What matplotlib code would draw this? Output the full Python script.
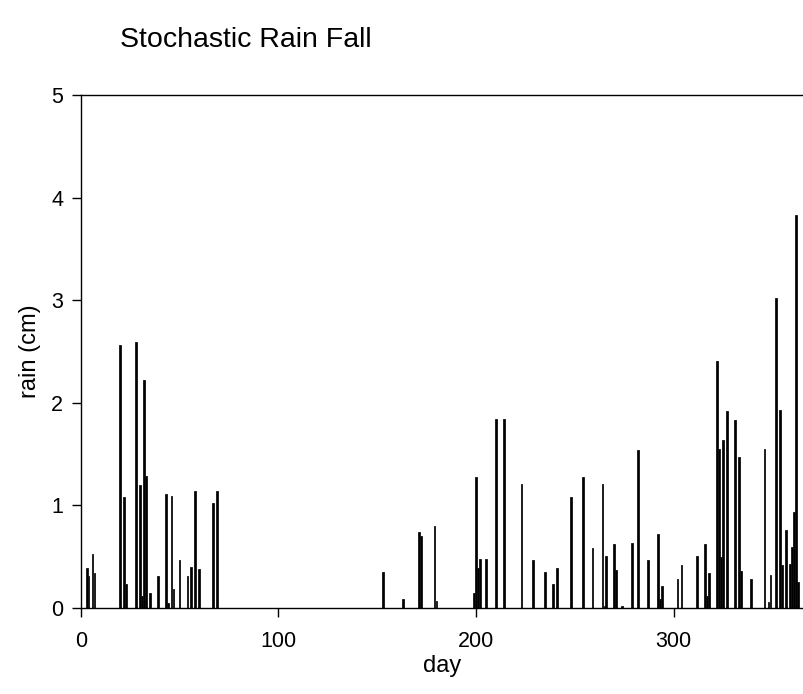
import matplotlib
matplotlib.use("Agg")
import matplotlib.pyplot as plt

plt.rcParams['font.family'] = ['Liberation Sans', 'DejaVu Sans']

days = [3, 4, 6, 7, 20, 22, 23, 28, 30, 31, 32, 33, 35, 39, 43, 44, 46, 47, 50, 54,
        56, 58, 60, 67, 69, 153, 163, 171, 172, 179, 180, 199, 200, 201, 202, 205,
        210, 214, 223, 229, 235, 239, 241, 248, 254, 259, 264, 265, 266, 270, 271,
        274, 279, 282, 287, 292, 293, 294, 302, 304, 312, 316, 317, 318, 322, 323,
        324, 325, 327, 331, 333, 334, 339, 346, 348, 349, 352, 354, 355, 357, 359,
        360, 361, 362, 363]
rain = [0.39, 0.31, 0.53, 0.34, 2.56, 1.08, 0.23, 2.59, 1.20, 0.12, 2.22, 1.29, 0.15,
        0.31, 1.11, 0.05, 1.09, 0.19, 0.47, 0.31, 0.40, 1.14, 0.38, 1.02, 1.14, 0.35,
        0.09, 0.74, 0.70, 0.80, 0.07, 0.15, 1.28, 0.39, 0.48, 0.48, 1.84, 1.84, 1.21,
        0.47, 0.35, 0.23, 0.39, 1.08, 1.28, 0.58, 1.21, 0.02, 0.51, 0.62, 0.37, 0.02,
        0.63, 1.54, 0.47, 0.72, 0.09, 0.21, 0.28, 0.42, 0.51, 0.62, 0.12, 0.34, 2.41,
        1.55, 0.50, 1.64, 1.92, 1.83, 1.47, 0.36, 0.28, 1.55, 0.06, 0.32, 3.02, 1.93,
        0.42, 0.76, 0.43, 0.59, 0.94, 3.83, 0.25]

xticks = [0, 100, 200, 300]
yticks = [0, 1, 2, 3, 4, 5]

fig = plt.figure(figsize=(8.04, 6.94), dpi=100)
ax = fig.add_axes([80.7 / 804, 1 - 608 / 694, 1 - 80.7 / 804, (608 - 95) / 694])
ax.bar(days, rain, width=0.9, color='black', edgecolor='#111111', linewidth=0.6)
ax.set_xlim(0, 366)
ax.set_ylim(0, 5)
ax.set_xticks(xticks)
ax.set_yticks(yticks)
ax.spines['right'].set_visible(False)
for s in ['left', 'bottom', 'top']:
    ax.spines[s].set_linewidth(1.0)
ax.tick_params(direction='out', length=6.5, width=1.0, labelsize=15.5)
ax.tick_params(axis='x', pad=10)
ax.tick_params(axis='y', pad=6)
ax.set_xlabel('day', fontsize=17, labelpad=2)
ax.set_ylabel('rain (cm)', fontsize=17, labelpad=7)
fig.text(120 / 804, 1 - 40 / 694, 'Stochastic Rain Fall', fontsize=20.5,
         ha='left', va='center')
fig.savefig('out.png', dpi=100)
